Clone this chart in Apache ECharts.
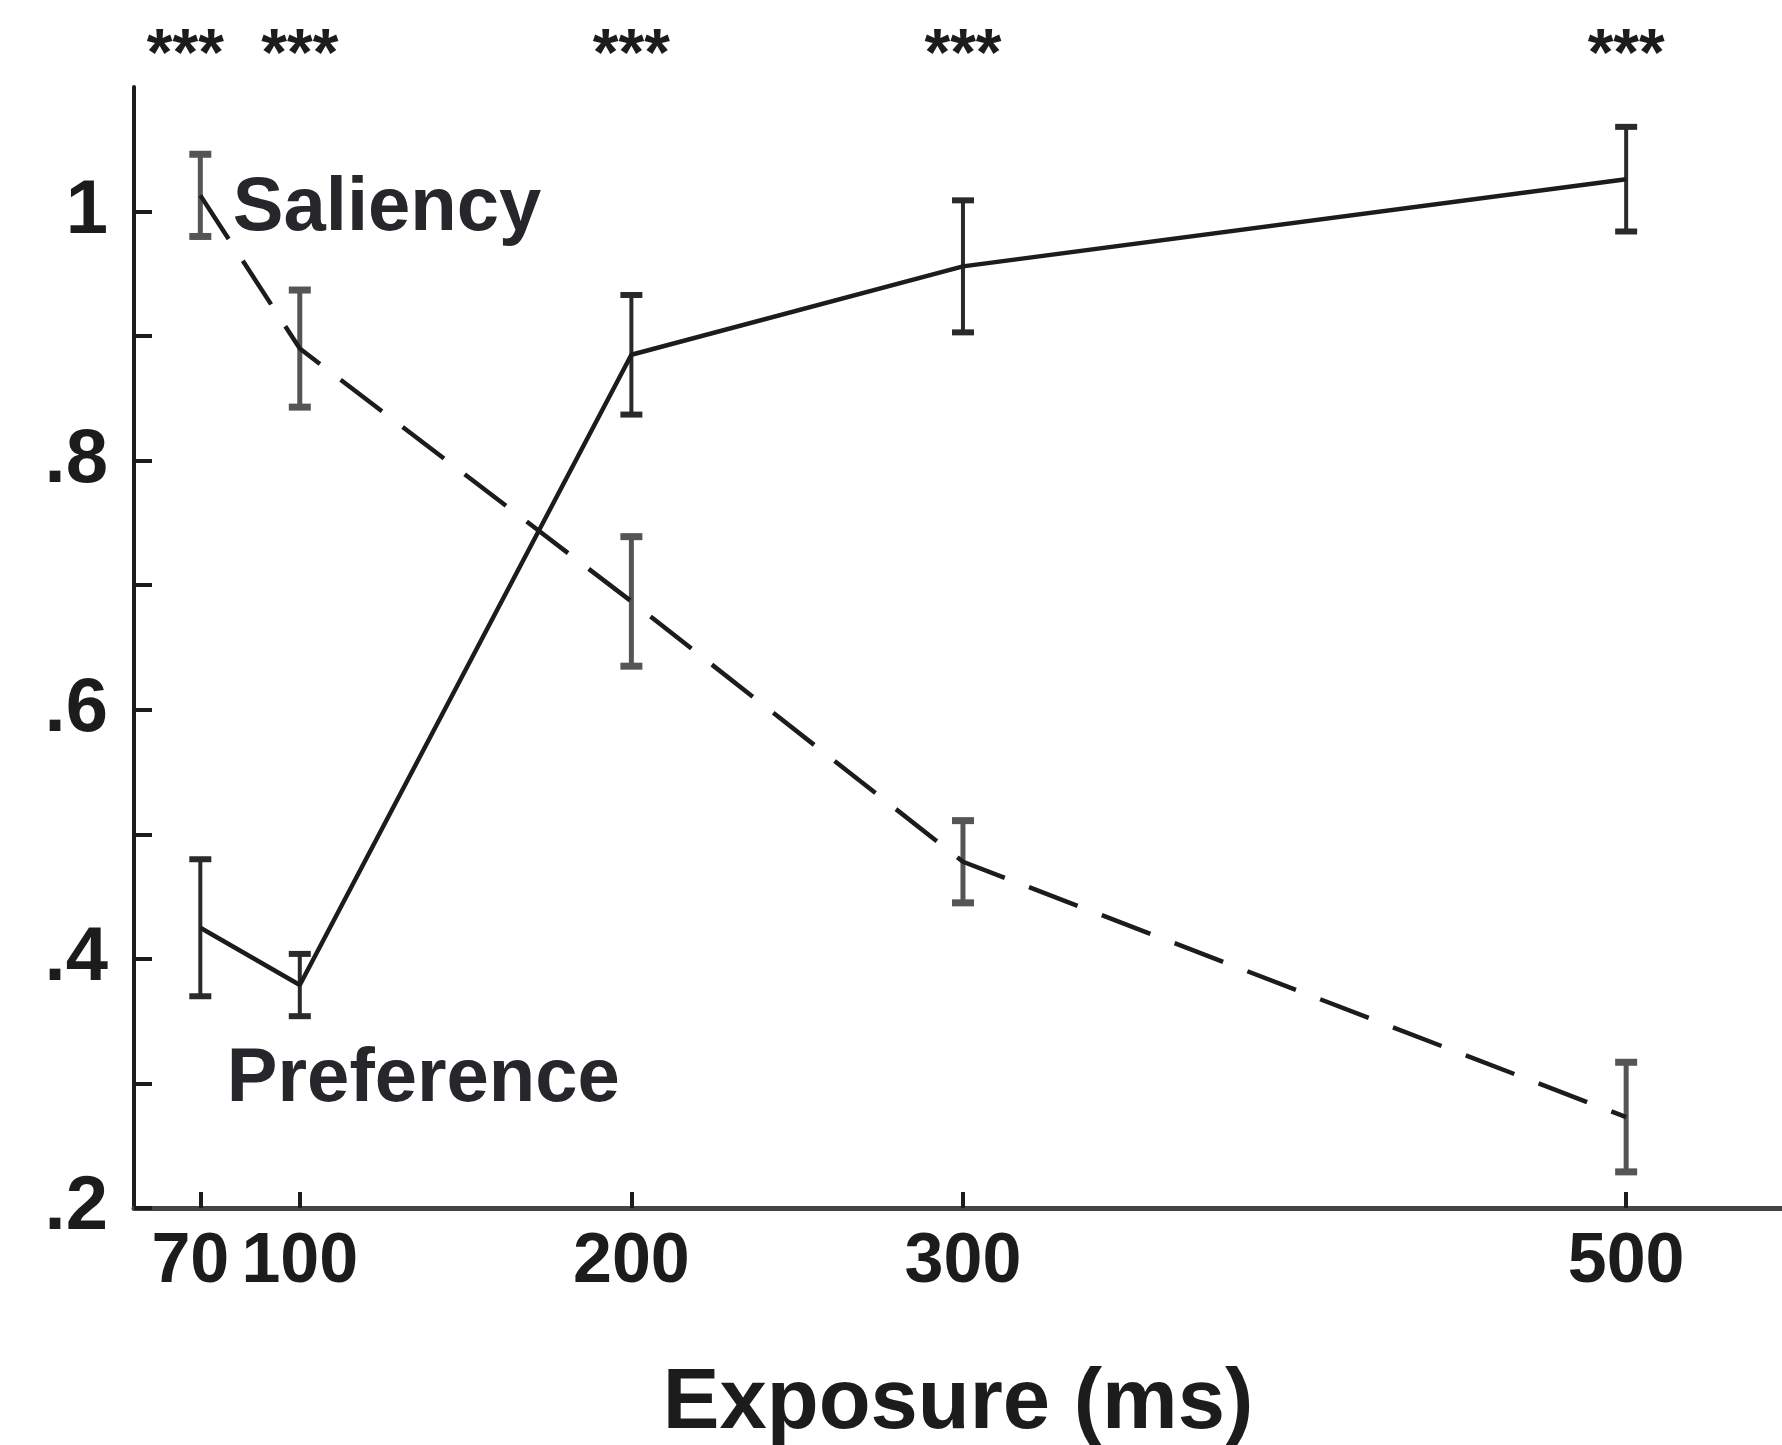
<!DOCTYPE html>
<html>
<head>
<meta charset="utf-8">
<title>Exposure (ms)</title>
<script src="https://cdn.jsdelivr.net/npm/echarts@6/dist/echarts.min.js"></script>
<style>
  html, body { margin: 0; padding: 0; background: #ffffff; }
  #chart { width: 1782px; height: 1445px; }
</style>
</head>
<body>
<div id="chart"></div>
<script>
// Exposure durations (ms) and group means with their error half-widths
const exposures = [70, 100, 200, 300, 500];
const preferenceMean = [0.425, 0.379, 0.885, 0.956, 1.026];
const preferenceErr = [0.055, 0.025, 0.048, 0.053, 0.042];
const saliencyMean = [1.013, 0.890, 0.687, 0.478, 0.273];
const saliencyErr = [0.033, 0.047, 0.052, 0.033, 0.044];
// significance marks printed above each exposure
const significance = ['***', '***', '***', '***', '***'];
// y-axis ticks and the subset that carries labels
const yTickValues = [0.2, 0.3, 0.4, 0.5, 0.6, 0.7, 0.8, 0.9, 1.0];
const yLabelValues = [0.2, 0.4, 0.6, 0.8, 1.0];

const FONT = '"Liberation Sans", Arial, Helvetica, sans-serif';
const INK = '#1c1c1c';
const X_MIN = 50;
const X_MAX = 547;

function toPairs(means) {
  return exposures.map((x, i) => [x, means[i]]);
}
function toBars(means, errs) {
  return exposures.map((x, i) => [x, means[i] - errs[i], means[i] + errs[i]]);
}

// vertical error bar with caps
function errorBar(color, width) {
  return function (params, api) {
    const x = api.value(0);
    const lo = api.coord([x, api.value(1)]);
    const hi = api.coord([x, api.value(2)]);
    const cap = 11;
    const capStyle = { stroke: color, lineWidth: width + 2 };
    return {
      type: 'group',
      children: [
        { type: 'line', shape: { x1: lo[0], y1: lo[1], x2: hi[0], y2: hi[1] }, style: { stroke: color, lineWidth: width } },
        { type: 'line', shape: { x1: hi[0] - cap, y1: hi[1], x2: hi[0] + cap, y2: hi[1] }, style: capStyle },
        { type: 'line', shape: { x1: lo[0] - cap, y1: lo[1], x2: lo[0] + cap, y2: lo[1] }, style: capStyle }
      ]
    };
  };
}

// the first significance mark sits a little left of its tick so it clears the next one
function starLabel(v) {
  const i = exposures.indexOf(v);
  return i === 0 ? '{shift|' + significance[i] + '}' : significance[i];
}

const tickLabelStyle = { fontFamily: FONT, fontWeight: 'bold', fontSize: 70, color: INK };

// a bare axis sharing the main x scale, used only to carry text
function textAxis(position, values, label) {
  return {
    type: 'value',
    min: X_MIN,
    max: X_MAX,
    position: position,
    axisLine: { show: false },
    axisTick: { show: false },
    splitLine: { show: false },
    axisLabel: Object.assign({ show: true, customValues: values, hideOverlap: false }, label)
  };
}

const chart = echarts.init(document.getElementById('chart'), null, { renderer: 'canvas' });

chart.setOption({
  backgroundColor: '#ffffff',
  animation: false,
  grid: { left: 134, right: 0, top: 87, bottom: 237, containLabel: false, outerBoundsMode: 'none' },
  xAxis: [
    {
      type: 'value',
      min: X_MIN,
      max: X_MAX,
      position: 'bottom',
      name: 'Exposure (ms)',
      nameLocation: 'middle',
      nameGap: 154,
      nameTextStyle: { fontFamily: FONT, fontWeight: 'bold', fontSize: 85, color: INK },
      axisLine: { show: true, lineStyle: { color: '#444444', width: 5 } },
      axisTick: { show: true, inside: true, length: 16, customValues: exposures, lineStyle: { color: INK, width: 4 } },
      axisLabel: Object.assign({
        show: true,
        customValues: exposures.slice(1),
        hideOverlap: false,
        margin: 20,
        formatter: (v) => String(v)
      }, tickLabelStyle),
      splitLine: { show: false },
      minorTick: { show: false }
    },
    // the shortest exposure is labelled on its own so it sits snug against "100"
    textAxis('bottom', exposures.slice(0, 1), Object.assign({
      margin: 20,
      formatter: (v) => '{shift|' + v + '}',
      rich: { shift: Object.assign({ padding: [0, 20, 0, 0] }, tickLabelStyle) }
    }, tickLabelStyle)),
    textAxis('top', exposures, {
      margin: -3,
      fontFamily: FONT, fontWeight: 'bold', fontSize: 66, color: INK,
      formatter: starLabel,
      rich: {
        shift: { fontFamily: FONT, fontWeight: 'bold', fontSize: 66, color: INK, padding: [0, 30, 0, 0] }
      }
    })
  ],
  yAxis: {
    type: 'value',
    min: 0.2,
    max: 1.1,
    axisLine: { show: true, lineStyle: { color: INK, width: 4 } },
    axisTick: { show: true, inside: true, length: 18, customValues: yTickValues, lineStyle: { color: INK, width: 4 } },
    axisLabel: {
      show: true,
      customValues: yLabelValues,
      hideOverlap: false,
      showMinLabel: true,
      showMaxLabel: true,
      margin: 26,
      fontFamily: FONT, fontWeight: 'bold', fontSize: 76, color: INK,
      formatter: (v) => (Math.abs(v - 1) < 1e-9 ? '1' : v.toFixed(1).replace(/^0/, ''))
    },
    splitLine: { show: false }
  },
  series: [
    {
      name: 'Preference error',
      type: 'custom',
      renderItem: errorBar('#2a2a2a', 4),
      data: toBars(preferenceMean, preferenceErr),
      z: 3
    },
    {
      name: 'Saliency error',
      type: 'custom',
      renderItem: errorBar('#555555', 5),
      data: toBars(saliencyMean, saliencyErr),
      z: 3
    },
    {
      name: 'Preference',
      type: 'line',
      data: toPairs(preferenceMean),
      showSymbol: false,
      lineStyle: { color: INK, width: 4.5, type: 'solid' },
      z: 4,
      markPoint: {
        symbol: 'circle',
        symbolSize: 0,
        data: [{ coord: [78, 0.303] }],
        label: {
          show: true, position: 'right', distance: 0,
          formatter: 'Preference',
          fontFamily: FONT, fontWeight: 'bold', fontSize: 76, color: '#26262b'
        }
      }
    },
    {
      name: 'Saliency',
      type: 'line',
      data: toPairs(saliencyMean),
      showSymbol: false,
      lineStyle: { color: INK, width: 4.5, type: [52, 26] },
      z: 4,
      markPoint: {
        symbol: 'circle',
        symbolSize: 0,
        data: [{ coord: [79.8, 1.002] }],
        label: {
          show: true, position: 'right', distance: 0,
          formatter: 'Saliency',
          fontFamily: FONT, fontWeight: 'bold', fontSize: 76, color: '#26262b'
        }
      }
    }
  ]
});
</script>
</body>
</html>
